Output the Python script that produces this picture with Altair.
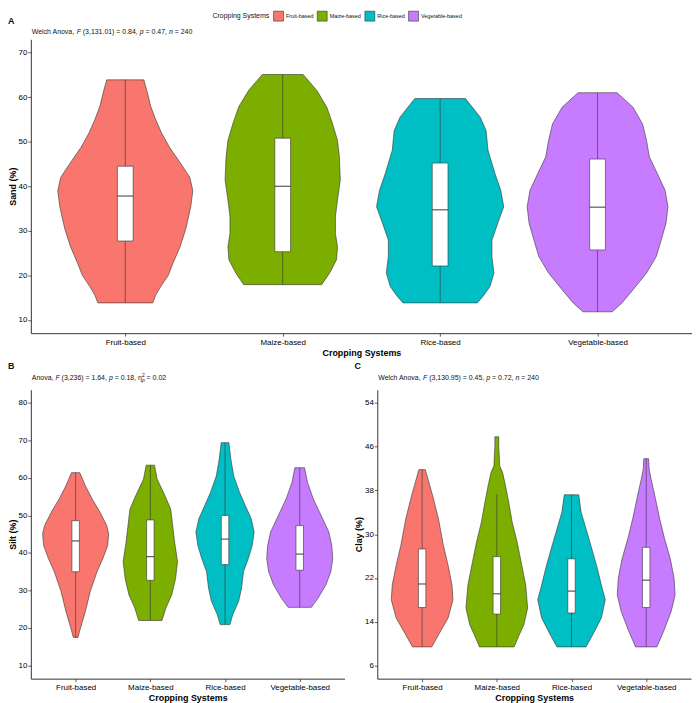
import altair as alt
import pandas as pd

FONT = "Liberation Sans"
CATS = ["Fruit-based", "Maize-based", "Rice-based", "Vegetable-based"]
COLORS = ["#F8766D", "#7CAE00", "#00BFC4", "#C77CFF"]

# ---------------- Panel A : Sand (%) ----------------
sand_v = [
    [13.8, 15.5, 17.4, 20.0, 22.8, 26.4, 30.5, 35.4, 39.0, 42.0, 45.0, 48.8, 52.0, 55.0, 58.0, 61.5, 63.9],
    [17.9, 20.5, 23.5, 26.4, 29.4, 33.2, 36.9, 41.4, 46.6, 50.3, 54.0, 57.8, 61.5, 65.1],
    [13.8, 15.3, 17.5, 20.5, 24.2, 27.9, 31.7, 35.4, 39.1, 42.9, 48.1, 52.5, 55.5, 59.7],
    [11.8, 13.8, 16.7, 20.5, 24.2, 27.9, 31.7, 35.4, 39.1, 42.9, 46.6, 50.3, 54.0, 57.8, 61.0],
]
sand_w = [
    [.174, .193, .224, .273, .304, .348, .385, .416, .429, .410, .354, .280, .230, .193, .161, .137, .118],
    [.248, .298, .342, .348, .335, .335, .348, .366, .360, .348, .317, .280, .217, .130],
    [.236, .273, .317, .342, .329, .329, .366, .404, .385, .348, .304, .292, .255, .161],
    [.093, .155, .224, .311, .373, .404, .435, .447, .429, .379, .329, .311, .286, .224, .124],
]
sand_lo = [13.8, 17.9, 13.8, 11.8]
sand_q1 = [27.7, 25.3, 22.1, 25.7]
sand_med = [37.8, 40.0, 34.7, 35.3]
sand_q3 = [44.5, 50.8, 45.2, 46.1]
sand_hi = [63.9, 65.1, 59.7, 61.0]

# ---------------- Panel B : Silt (%) ----------------
silt_v = [
    [17.5, 19.1, 24.4, 29.7, 35.0, 38.5, 42.0, 45.1, 47.3, 50.9, 54.4, 57.9, 61.4],
    [22.0, 25.3, 28.8, 33.2, 37.7, 42.9, 47.3, 51.7, 55.3, 59.7, 63.4],
    [20.9, 23.6, 27.1, 30.6, 35.0, 38.5, 42.0, 45.6, 49.1, 52.6, 56.1, 60.5, 65.0, 69.4],
    [25.5, 28.0, 31.5, 35.0, 38.5, 42.0, 45.6, 50.0, 54.4, 58.8, 62.7],
]
silt_w = [
    [.032, .052, .130, .195, .286, .364, .429, .442, .416, .325, .221, .130, .056],
    [.156, .208, .286, .338, .364, .325, .299, .273, .195, .091, .056],
    [.065, .104, .182, .221, .247, .312, .364, .390, .351, .273, .195, .117, .078, .052],
    [.156, .247, .351, .416, .442, .429, .390, .286, .182, .104, .065],
]
silt_lo = [17.5, 22.0, 20.9, 25.5]
silt_q1 = [35.0, 32.7, 36.9, 35.4]
silt_med = [43.2, 39.0, 43.7, 39.7]
silt_q3 = [48.6, 48.8, 50.0, 47.3]
silt_hi = [61.4, 63.4, 69.4, 62.7]

# ---------------- Panel C : Clay (%) ----------------
clay_v = [
    [9.4, 11.6, 14.7, 18.0, 20.7, 24.3, 28.0, 32.8, 37.0, 41.8],
    [9.4, 11.5, 13.4, 16.5, 20.7, 24.3, 28.6, 32.2, 35.2, 38.9, 41.3, 42.5, 46.1, 47.8],
    [9.4, 11.6, 14.7, 18.0, 20.7, 24.3, 28.0, 31.0, 34.0, 37.2],
    [9.4, 12.2, 15.9, 18.9, 21.9, 25.5, 29.2, 32.8, 37.0, 40.1, 41.9, 43.8],
]
clay_w = [
    [.129, .219, .348, .413, .400, .348, .284, .219, .142, .043],
    [.232, .297, .361, .413, .387, .335, .271, .206, .168, .116, .077, .039, .026, .026],
    [.194, .284, .400, .452, .400, .335, .258, .194, .129, .097],
    [.142, .232, .335, .387, .374, .323, .245, .181, .116, .065, .039, .032],
]
clay_lo = [9.4, 9.4, 9.4, 9.4]
clay_q1 = [16.6, 15.4, 15.6, 16.6]
clay_med = [20.9, 19.1, 19.6, 21.6]
clay_q3 = [27.3, 25.9, 25.5, 27.6]
clay_hi = [41.8, 37.3, 37.2, 43.8]

# Arial / Liberation Sans advance widths (1/1000 em), used to place italic runs
ADV = {" ": 278, ",": 278, ".": 278, "(": 333, ")": 333, "=": 584, "A": 667, "W": 944,
       "F": 611, "a": 556, "c": 500, "e": 556, "h": 556, "l": 222, "n": 556, "o": 556,
       "p": 556, "v": 500, "\u03b7": 556}
for d in "0123456789":
    ADV[d] = 556

ONE = pd.DataFrame({"k": [0]})


def violin_frame(vals, widths):
    rows = []
    for i, c in enumerate(CATS):
        for v, w in zip(vals[i], widths[i]):
            rows.append({"cat": c, "pos": i + 1, "v": v, "w": w})
    return pd.DataFrame(rows)


def box_frame(lo, q1, med, q3, hi):
    return pd.DataFrame({"cat": CATS, "pos": [1, 2, 3, 4], "lo": lo, "q1": q1,
                         "med": med, "q3": q3, "hi": hi})


def adv(text, size):
    return sum(ADV[ch] for ch in text) * size / 1000.0


def text_runs(parts, x0, y0):
    layers = []
    x = x0
    for text, italic, size, dy, advance in parts:
        lead = text[: len(text) - len(text.lstrip(" "))]
        shown = text.strip(" ")
        layers.append(
            alt.Chart(ONE).mark_text(
                text=shown, font=FONT, fontSize=size, align="left", baseline="middle",
                fontStyle="italic" if italic else "normal", color="#111111",
            ).encode(x=alt.value(x + adv(lead, size)), y=alt.value(y0 + dy))
        )
        if advance:
            x += adv(text, size)
    return layers


def panel(vals, widths, lo, q1, med, q3, hi, ydom, yticks, ytitle, w, h,
          letter, letter_xy, parts, sub_xy, legend=None):
    xs = alt.Scale(domain=[0.4, 4.6], nice=False, zero=False)
    ys = alt.Scale(domain=ydom, nice=False, zero=False)
    label_expr = "[''," + ",".join("'%s'" % c for c in CATS) + "][datum.value]"
    xa = alt.Axis(values=[1, 2, 3, 4], labelExpr=label_expr, title="Cropping Systems")
    ya = alt.Axis(values=yticks, title=ytitle)
    vdf = violin_frame(vals, widths)
    bdf = box_frame(lo, q1, med, q3, hi)

    viol = alt.Chart(vdf).transform_calculate(
        x1="datum.pos - datum.w", x2="datum.pos + datum.w"
    ).mark_area(orient="horizontal", stroke="#333333", strokeWidth=0.6, opacity=1).encode(
        y=alt.Y("v:Q", scale=ys, axis=ya),
        x=alt.X("x1:Q", scale=xs, axis=xa),
        x2="x2:Q",
        color=alt.Color("cat:N", scale=alt.Scale(domain=CATS, range=COLORS),
                        legend=legend if legend is not None else None),
    )
    base = alt.Chart(bdf).transform_calculate(
        b1="datum.pos - 0.05", b2="datum.pos + 0.05"
    )
    whisk = base.mark_rule(color="#333333", strokeWidth=0.6).encode(
        x=alt.X("pos:Q", scale=xs, axis=xa),
        y=alt.Y("lo:Q", scale=ys, axis=ya),
        y2="hi:Q",
    )
    box = base.mark_rect(fill="white", stroke="#333333", strokeWidth=0.6).encode(
        x=alt.X("b1:Q", scale=xs, axis=xa), x2="b2:Q",
        y=alt.Y("q1:Q", scale=ys, axis=ya), y2="q3:Q",
    )
    medl = base.mark_rule(color="#222222", strokeWidth=0.9).encode(
        x=alt.X("b1:Q", scale=xs, axis=xa), x2="b2:Q",
        y=alt.Y("med:Q", scale=ys, axis=ya),
    )
    letter_layer = alt.Chart(ONE).mark_text(
        text=letter, font=FONT, fontSize=9, fontWeight="bold", align="left",
        baseline="middle", color="#111111",
    ).encode(x=alt.value(letter_xy[0]), y=alt.value(letter_xy[1]))
    layers = [viol, whisk, box, medl, letter_layer] + text_runs(parts, sub_xy[0], sub_xy[1])
    return alt.layer(*layers).properties(width=w, height=h)


S = 7
sub_a = [("Welch Anova, ", False, S, 0, True), ("F", True, S, 0, True),
         (" (3,131.01) = 0.84, ", False, S, 0, True), ("p", True, S, 0, True),
         (" = 0.47, ", False, S, 0, True), ("n", True, S, 0, True), (" = 240", False, S, 0, True)]
sub_b = [("Anova, ", False, S, 0, True), ("F", True, S, 0, True),
         (" (3,236) = 1.64, ", False, S, 0, True), ("p", True, S, 0, True),
         (" = 0.18, ", False, S, 0, True), ("\u03b7", False, S, 0, True),
         ("2", False, 5, -2.5, False), ("p", True, 5, 2.5, True),
         (" = 0.02", False, S, 0, True)]
sub_c = [("Welch Anova, ", False, S, 0, True), ("F", True, S, 0, True),
         (" (3,130.95) = 0.45, ", False, S, 0, True), ("p", True, S, 0, True),
         (" = 0.72, ", False, S, 0, True), ("n", True, S, 0, True), (" = 240", False, S, 0, True)]

legend = alt.Legend(
    orient="none", legendX=183, legendY=-29, direction="horizontal", padding=0,
    title="Cropping Systems", titleOrient="left", titleFontSize=7, titleFontWeight="normal",
    titleFont=FONT, titleColor="#111111", labelFont=FONT, labelFontSize=5.5, labelColor="#111111",
    symbolType="square", symbolSize=100, symbolStrokeColor="#333333", symbolStrokeWidth=0.6,
    symbolOpacity=1, labelOffset=2, columnPadding=2, titlePadding=3,
)

pA = panel(sand_v, sand_w, sand_lo, sand_q1, sand_med, sand_q3, sand_hi,
           [7, 73], [10, 20, 30, 40, 50, 60, 70], "Sand (%)", 666, 296,
           "A", (-23, -18), sub_a, (1, -7), legend=legend)
pB = panel(silt_v, silt_w, silt_lo, silt_q1, silt_med, silt_q3, silt_hi,
           [6.5, 83.5], [10, 20, 30, 40, 50, 60, 70, 80], "Silt (%)", 316, 291,
           "B", (-23, -24), sub_b, (1, -12))
pC = panel(clay_v, clay_w, clay_lo, clay_q1, clay_med, clay_q3, clay_hi,
           [3.6, 56.4], [6, 14, 22, 30, 38, 46, 54], "Clay (%)", 316, 291,
           "C", (-23, -24), sub_c, (1, -12))

bottom = alt.hconcat(pB, pC, spacing=33, bounds="flush")
chart = alt.vconcat(pA, bottom, spacing=57, bounds="flush").properties(
    padding={"left": 0, "top": 0, "right": 0, "bottom": 0}
).configure_view(stroke=None).configure_axis(
    grid=False, domainColor="#333333", domainWidth=1, tickColor="#333333", tickSize=3,
    tickWidth=0.8, labelFont=FONT, labelFontSize=8, labelColor="#000000", labelPadding=2,
    titleFont=FONT, titleFontSize=9, titleFontWeight="bold", titleColor="#000000",
    titlePadding=2,
).configure_axisY(labelPadding=1, titlePadding=1)

chart.save("out.html", embed_options={"renderer": "svg", "actions": False})
